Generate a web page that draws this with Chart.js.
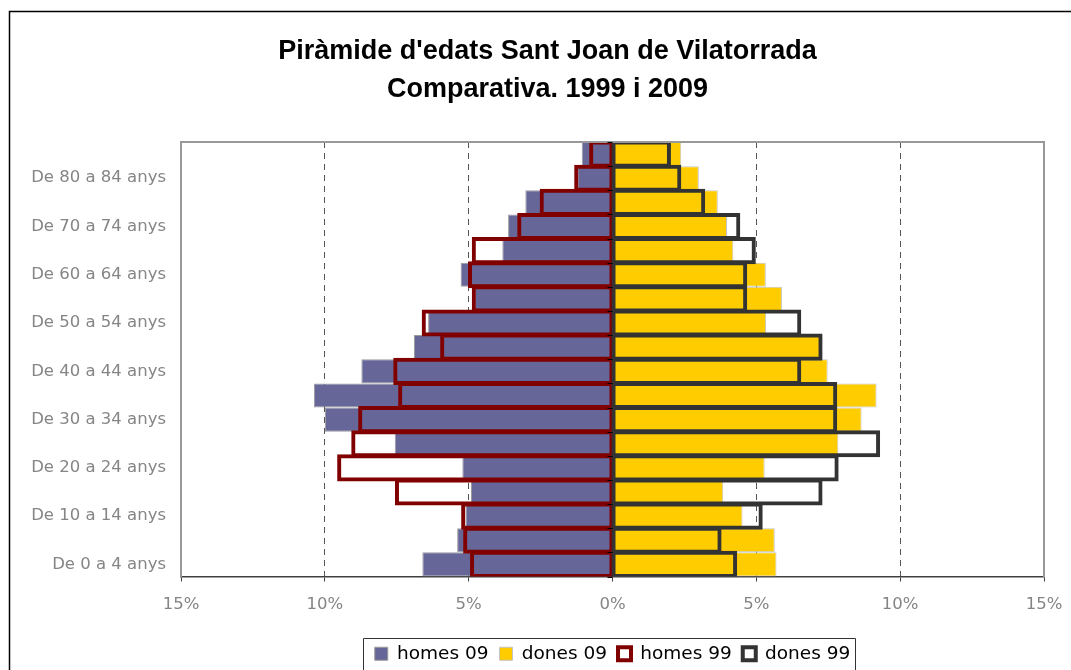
<!DOCTYPE html>
<html>
<head>
<meta charset="utf-8">
<title>Piràmide d'edats Sant Joan de Vilatorrada</title>
<script src="https://cdn.jsdelivr.net/npm/chart.js@4/dist/chart.umd.min.js"></script>
<style>
    html, body { margin: 0; padding: 0; background: #fff; overflow: hidden; }
    #wrap { width: 1095px; height: 673px; }
</style>
</head>
<body>
<div id="wrap"><canvas id="piramide" width="1095" height="673"></canvas></div>
<script>
// Grups d'edat (de baix a dalt)
const grupsEdat = [
    'De 0 a 4 anys', 'De 5 a 9 anys', 'De 10 a 14 anys', 'De 15 a 19 anys',
    'De 20 a 24 anys', 'De 25 a 29 anys', 'De 30 a 34 anys', 'De 35 a 39 anys',
    'De 40 a 44 anys', 'De 45 a 49 anys', 'De 50 a 54 anys', 'De 55 a 59 anys',
    'De 60 a 64 anys', 'De 65 a 69 anys', 'De 70 a 74 anys', 'De 75 a 79 anys',
    'De 80 a 84 anys', 'De 85 anys i més'
];

// Percentatges sobre el total (llegits del gràfic)
const homes09 = [6.61, 5.40, 5.11, 4.92, 5.22, 7.57, 10.00, 10.38, 8.73, 6.90, 6.41, 4.80, 5.28, 3.83, 3.63, 3.03, 1.22, 1.07];
const dones09 = [5.70, 5.64, 4.52, 3.85, 5.29, 7.85, 8.66, 9.18, 7.48, 7.30, 5.34, 5.89, 5.33, 4.20, 3.98, 3.66, 3.00, 2.39];
const homes99 = [4.90, 5.14, 5.21, 7.51, 9.52, 9.03, 8.79, 7.40, 7.57, 5.94, 6.58, 4.84, 4.97, 4.84, 3.26, 2.48, 1.28, 0.76];
const dones99 = [4.28, 3.74, 5.17, 7.25, 7.81, 9.25, 7.76, 7.76, 6.51, 7.25, 6.51, 4.63, 4.63, 4.93, 4.39, 3.17, 2.34, 1.98];

// Eix horitzontal (%)
const eixMin = -15;
const eixMax = 15;
const eixPas = 5;

const titol = ["Piràmide d'edats Sant Joan de Vilatorrada", 'Comparativa. 1999 i 2009'];

Chart.defaults.font.family = 'DejaVu Sans';

// Marcs, marques a l'eix 0 i requadre de la llegenda
const marcPlugin = {
    id: 'marc',
    beforeDraw(chart) {
        const ctx = chart.ctx;
        ctx.save();
        ctx.fillStyle = '#fff';
        ctx.fillRect(0, 0, chart.width, chart.height);
        ctx.strokeStyle = '#000';
        ctx.lineWidth = 1.5;
        ctx.strokeRect(9.5, 11.5, chart.width + 50, chart.height + 50);
        ctx.restore();
    },
    afterDatasetsDraw(chart) {
        const ctx = chart.ctx;
        const area = chart.chartArea;
        const x = chart.scales.x;
        const y = chart.scales.y;
        ctx.save();
        // línia superior de l'àrea
        ctx.strokeStyle = '#999';
        ctx.lineWidth = 2;
        ctx.beginPath();
        ctx.moveTo(area.left - 1, area.top);
        ctx.lineTo(area.right + 1, area.top);
        ctx.stroke();
        // marques a l'eix vertical (0%)
        const x0 = x.getPixelForValue(0);
        ctx.strokeStyle = '#000';
        ctx.lineWidth = 1;
        const n = grupsEdat.length;
        const pas = (y.getPixelForValue(0) - y.getPixelForValue(1));
        for (let i = 0; i <= n; i++) {
            const py = Math.round(y.getPixelForValue(i) + pas / 2) + 0.5;
            ctx.beginPath();
            ctx.moveTo(x0 - 5, py);
            ctx.lineTo(x0, py);
            ctx.stroke();
        }
        ctx.restore();
    },
    afterDraw(chart) {
        const lg = chart.legend;
        if (!lg || !lg.legendHitBoxes || !lg.legendHitBoxes.length) return;
        const hb = lg.legendHitBoxes;
        const last = hb[hb.length - 1];
        const left = Math.round(hb[0].left - 12) + 0.5;
        const right = Math.round(last.left + last.width + 5) + 0.5;
        const top = Math.round(lg.top + 4) + 0.5;
        const ctx = chart.ctx;
        ctx.save();
        ctx.strokeStyle = '#333';
        ctx.lineWidth = 1;
        ctx.beginPath();
        ctx.moveTo(left, chart.height + 5);
        ctx.lineTo(left, top);
        ctx.lineTo(right, top);
        ctx.lineTo(right, chart.height + 5);
        ctx.stroke();
        ctx.restore();
    }
};

const ctx = document.getElementById('piramide').getContext('2d');
new Chart(ctx, {
    type: 'bar',
    data: {
        labels: grupsEdat,
        datasets: [
            {
                label: 'homes 09',
                data: homes09.map(v => -v),
                backgroundColor: '#666699',
                borderColor: '#9a9a9a',
                borderWidth: 1,
                inflateAmount: 0,
                order: 3
            },
            {
                label: 'dones 09',
                data: dones09,
                backgroundColor: '#FFCC00',
                borderColor: '#c4c4c4',
                borderWidth: 1,
                inflateAmount: 0,
                order: 2
            },
            {
                label: 'homes 99',
                data: homes99.map(v => -v),
                backgroundColor: 'rgba(0,0,0,0)',
                borderColor: '#800000',
                borderWidth: 1,
                inflateAmount: 1.5,
                order: 1
            },
            {
                label: 'dones 99',
                data: dones99,
                backgroundColor: 'rgba(0,0,0,0)',
                borderColor: '#333333',
                borderWidth: 1,
                inflateAmount: 1.5,
                order: 0
            }
        ]
    },
    options: {
        responsive: false,
        animation: false,
        indexAxis: 'y',
        layout: { padding: 0 },
        datasets: {
            bar: {
                grouped: false,
                barPercentage: 1,
                categoryPercentage: 1,
                borderSkipped: false
            }
        },
        scales: {
            x: {
                min: eixMin,
                max: eixMax,
                ticks: {
                    stepSize: eixPas,
                    padding: 13,
                    color: '#858585',
                    font: { size: 16.5 },
                    callback: v => Math.abs(v) + '%'
                },
                grid: {
                    color: c => {
                        if (!c.tick) return '#555';
                        if (Math.abs(c.tick.value) === 15) return 'rgba(0,0,0,0)';
                        return c.tick.value === 0 ? '#333' : '#555';
                    },
                    lineWidth: 1,
                    drawTicks: true,
                    tickLength: 5,
                    tickColor: '#404040',
                    tickWidth: 1
                },
                border: {
                    color: '#404040',
                    width: 1.5,
                    dash: c => (c.tick && c.tick.value !== 0) ? [6, 5] : []
                },
                afterFit(scale) { scale.height = 57; }
            },
            y: {
                reverse: true,
                grid: { display: false },
                border: { color: '#999', width: 2 },
                ticks: {
                    autoSkip: false,
                    padding: 7,
                    color: '#858585',
                    font: { size: 16.5 },
                    callback: function (value, index) {
                        return index % 2 === 0 ? this.getLabelForValue(value) : '';
                    }
                },
                afterFit(scale) { scale.width = 181; }
            },
            y2: {
                type: 'linear',
                position: 'right',
                grid: { display: false },
                border: { color: '#999', width: 2 },
                ticks: { display: false },
                afterFit(scale) { scale.width = 51; }
            }
        },
        plugins: {
            title: {
                display: true,
                text: titol,
                color: '#000',
                font: { family: 'Liberation Sans', size: 27, weight: 'bold', lineHeight: 1.4 },
                padding: { top: 33, bottom: 33.4 }
            },
            legend: {
                position: 'bottom',
                fullSize: false,
                labels: {
                    color: '#000',
                    font: { size: 18.5 },
                    boxWidth: 13,
                    boxHeight: 13,
                    padding: 11,
                    sort: (a, b) => a.datasetIndex - b.datasetIndex,
                    generateLabels(chart) {
                        const items = Chart.defaults.plugins.legend.labels.generateLabels(chart);
                        items.forEach(it => {
                            if (it.datasetIndex >= 2) it.lineWidth = 4;
                        });
                        return items;
                    }
                }
            },
            tooltip: { enabled: false }
        }
    },
    plugins: [marcPlugin]
});
</script>
</body>
</html>
